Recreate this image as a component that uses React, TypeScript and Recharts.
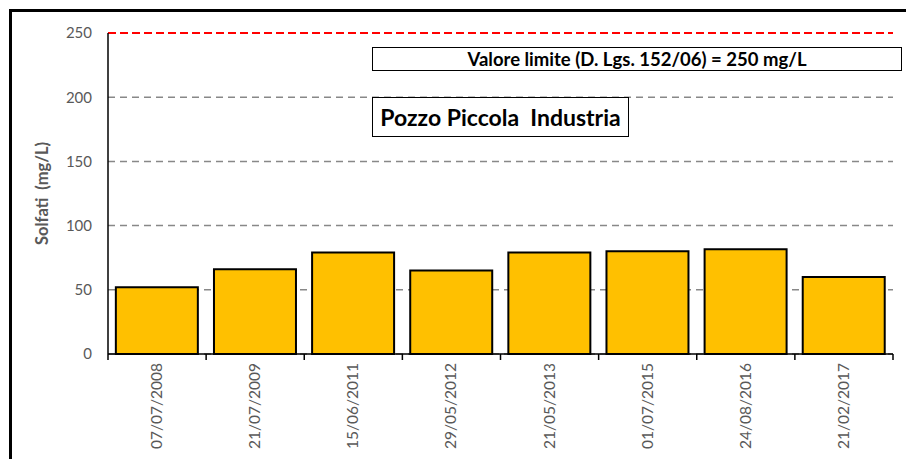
import { BarChart, Bar, XAxis, YAxis, CartesianGrid, ReferenceLine } from 'recharts';

const dates = [
  '07/07/2008',
  '21/07/2009',
  '15/06/2011',
  '29/05/2012',
  '21/05/2013',
  '01/07/2015',
  '24/08/2016',
  '21/02/2017',
];
const solfati = [52, 66, 79, 65, 79, 80, 81.5, 60];
const yTicks = [0, 50, 100, 150, 200, 250];
const limite = 250;

const data = dates.map((d, i) => ({ date: d, value: solfati[i] }));

const FONT = 'Lato, "Open Sans", sans-serif';
const W = 906;
const H = 459;
const M = { top: 33, right: 13, left: 0, bottom: 0 };
const Y_W = 108;
const halfBand = (W - M.left - M.right - Y_W) / dates.length / 2;

function DateTick(props: any) {
  const { x, y, payload, index } = props;
  const last = index === dates.length - 1;
  return (
    <g>
      <line x1={x - halfBand} y1={y - 8} x2={x - halfBand} y2={y - 2} stroke="#000" strokeWidth={1.5} />
      {last && (
        <line x1={x + halfBand} y1={y - 8} x2={x + halfBand} y2={y - 2} stroke="#000" strokeWidth={1.5} />
      )}
      <text
        transform={`rotate(-90, ${x}, ${y})`}
        textAnchor="end"
        fill="#595959"
        fontSize={15.5}
        fontFamily={FONT}
      >
        <tspan x={x - 1} y={y + 5}>{payload.value}</tspan>
      </text>
    </g>
  );
}

export default function App() {
  return (
    <div style={{ position: 'absolute', left: 0, top: 0, width: W, height: H, overflow: 'hidden', background: '#fff' }}>
      <div
        style={{
          position: 'absolute',
          left: 9,
          top: 9,
          width: 1200,
          height: 1200,
          border: '3px solid #000',
        }}
      />
      <div style={{ position: 'absolute', left: 0, top: 0 }}>
        <BarChart width={W} height={H} data={data} margin={M} barCategoryGap="8%">
          <CartesianGrid vertical={false} stroke="#888" strokeWidth={1.5} strokeDasharray="7 5" />
          <XAxis
            dataKey="date"
            height={H - 354}
            axisLine={{ stroke: '#000', strokeWidth: 1.5 }}
            tickLine={false}
            interval={0}
            tick={<DateTick />}
          />
          <YAxis
            width={Y_W}
            domain={[0, 250]}
            ticks={yTicks}
            interval={0}
            axisLine={{ stroke: '#000', strokeWidth: 1.5 }}
            tickLine={false}
            tickSize={0}
            tickMargin={16}
            tick={{ fill: '#595959', fontSize: 15, fontFamily: FONT }}
            label={{
              value: 'Solfati\u00A0\u00A0(mg/L)',
              angle: -90,
              position: 'insideLeft',
              offset: 42,
              style: { textAnchor: 'middle', fill: '#595959', fontSize: 16.5, fontWeight: 700, fontFamily: FONT },
            }}
          />
          <Bar dataKey="value" fill="#FFC000" stroke="#000" strokeWidth={2} isAnimationActive={false} />
          <ReferenceLine y={limite} stroke="#FF0000" strokeWidth={2} strokeDasharray="8 4" />
        </BarChart>
      </div>
      <div
        style={{
          position: 'absolute',
          left: 372,
          top: 47,
          width: 528,
          height: 22,
          border: '1.5px solid #000',
          background: '#fff',
          fontFamily: FONT,
          fontWeight: 700,
          fontSize: 18.5,
          lineHeight: '22px',
          textAlign: 'center',
          whiteSpace: 'pre',
        }}
      >
        Valore limite (D. Lgs. 152/06) = 250 mg/L
      </div>
      <div
        style={{
          position: 'absolute',
          left: 372,
          top: 97,
          width: 255,
          height: 38,
          border: '1.5px solid #000',
          background: '#fff',
          fontFamily: FONT,
          fontWeight: 700,
          fontSize: 23,
          lineHeight: '38px',
          textAlign: 'center',
          whiteSpace: 'pre',
        }}
      >
        Pozzo Piccola  Industria
      </div>
    </div>
  );
}
